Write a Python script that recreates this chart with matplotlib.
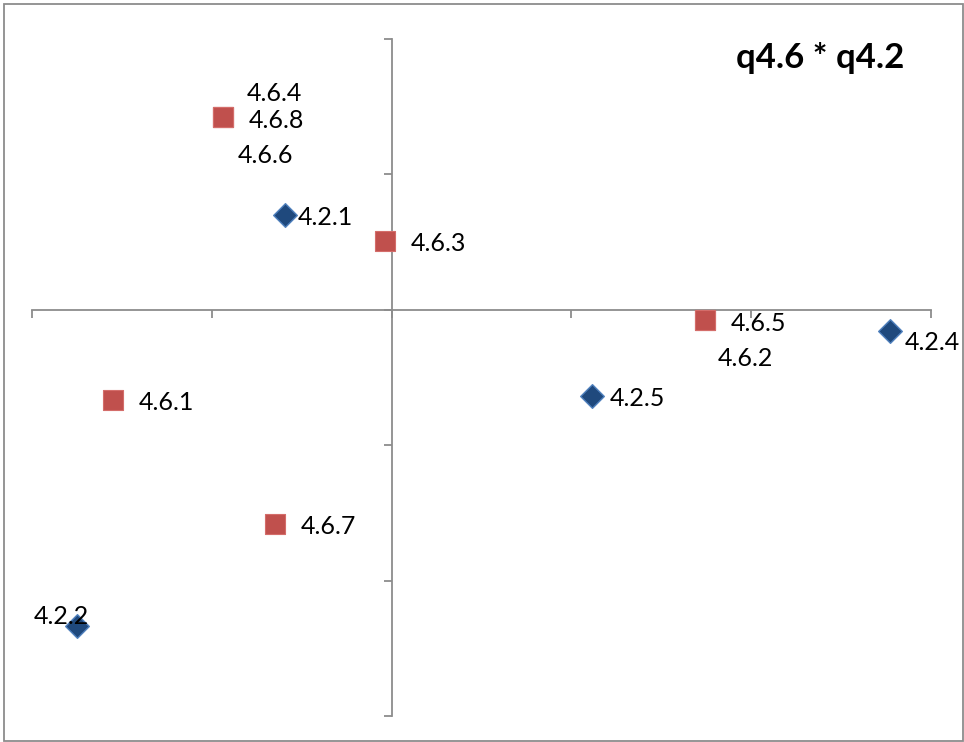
import matplotlib
matplotlib.use("Agg")
import matplotlib.pyplot as plt
from matplotlib.patches import Rectangle

plt.rcParams['font.family'] = ['Lato', 'DejaVu Sans']

# Category coordinates: q4.2 items (diamonds) and q4.6 items (squares)
q42_labels = ["4.2.1", "4.2.2", "4.2.4", "4.2.5"]
q42_x = [-0.297, -0.875, 1.386, 0.556]
q42_y = [0.351, -1.166, -0.077, -0.317]

q46_labels = ["4.6.4", "4.6.8", "4.6.6", "4.6.3", "4.6.5", "4.6.2", "4.6.1", "4.6.7"]
q46_x = [-0.469, -0.469, -0.469, -0.019, 0.872, 0.872, -0.775, -0.325]
q46_y = [0.712, 0.712, 0.712, 0.255, -0.037, -0.037, -0.332, -0.790]

title = "q4.6 * q4.2"

# label offsets in pixels (dx, dy) so overlapping labels stay readable
q42_offsets = [(13, -3), (-43, 9), (15, -12), (18, -3)]
q46_offsets = [(24, 23), (26, -4), (15, -39), (26, -3), (26, -4), (13, -39), (26, -3), (26, -3)]

W, H = 964, 742
fig = plt.figure(figsize=(W / 100, H / 100), dpi=100)
fig.patch.set_facecolor("white")

# outer chart border
fig.patches.append(Rectangle((4 / W, 1 / H), 959 / W, 737 / H, transform=fig.transFigure,
                             fill=False, edgecolor="#8c8c8c", linewidth=1.3))

ax = fig.add_axes([32 / W, 26 / H, 899 / W, 677 / H])
ax.set_xlim(-1.0, 1.5)
ax.set_ylim(-1.5, 1.0)
ax.set_facecolor("none")

axis_color = "#8c8c8c"
for side in ("top", "right"):
    ax.spines[side].set_visible(False)
ax.spines["left"].set_position(("data", 0))
ax.spines["bottom"].set_position(("data", 0))
for side in ("left", "bottom"):
    ax.spines[side].set_color(axis_color)
    ax.spines[side].set_linewidth(1.3)

ax.set_xticks([-1.0, -0.5, 0.0, 0.5, 1.0, 1.5])
ax.set_yticks([-1.5, -1.0, -0.5, 0.0, 0.5, 1.0])
ax.tick_params(axis="both", direction="out", length=6, width=1.3, color=axis_color,
               labelbottom=False, labelleft=False)

ax.scatter(q46_x, q46_y, marker="s", s=225, color="#c0504d", edgecolors="#d46d6a",
           linewidths=0.8, zorder=3, clip_on=False)
ax.scatter(q42_x, q42_y, marker="D", s=145, color="#1f497d", edgecolors="#4f81bd",
           linewidths=1.0, zorder=3, clip_on=False)

for lbl, x, y, (dx, dy) in zip(q46_labels, q46_x, q46_y, q46_offsets):
    ax.annotate(lbl, (x, y), xytext=(dx, dy), textcoords="offset pixels",
                ha="left", va="center", fontsize=18, color="black", zorder=4)
for lbl, x, y, (dx, dy) in zip(q42_labels, q42_x, q42_y, q42_offsets):
    ax.annotate(lbl, (x, y), xytext=(dx, dy), textcoords="offset pixels",
                ha="left", va="center", fontsize=18, color="black", zorder=4)

fig.text(820 / W, 1 - 68 / H, title, ha="center", va="baseline", fontsize=25,
         fontweight="bold", color="black")

fig.savefig("out.png", dpi=100, facecolor="white")
